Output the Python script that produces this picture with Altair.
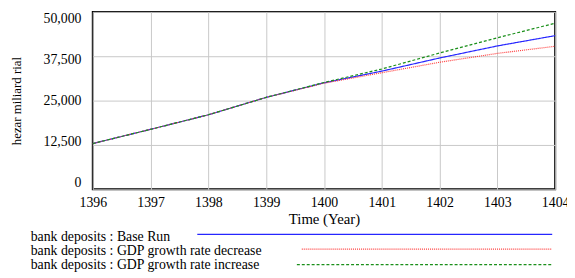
import altair as alt
import pandas as pd

years = [1396, 1397, 1398, 1399, 1400, 1401, 1402, 1403, 1404]
base_run = [12900, 16900, 21000, 25900, 30000, 33300, 37000, 40400, 43300]
gdp_decrease = [12900, 16900, 21000, 25900, 29900, 32850, 35800, 38300, 40300]
gdp_increase = [12900, 16900, 21000, 25900, 30100, 33900, 38400, 42700, 46800]
y_ticks = [0, 12500, 25000, 37500, 50000]

series_names = [
    "bank deposits : Base Run",
    "bank deposits : GDP growth rate decrease",
    "bank deposits : GDP growth rate increase",
]
series_colors = ["#2626ff", "#ff3b3b", "#1a8f1a"]
series_dash = [[1, 0], [1, 1], [3, 2]]

rows = []
for name, vals in zip(series_names, [base_run, gdp_decrease, gdp_increase]):
    for y, v in zip(years, vals):
        rows.append({"year": y, "value": v, "series": name})
df = pd.DataFrame(rows)

FONT = "Liberation Serif"

x_enc = alt.X("year:Q", scale=alt.Scale(domain=[1396, 1404], nice=False),
              axis=alt.Axis(values=years, labelExpr="format(datum.value, 'd')", title="Time (Year)",
                            grid=True, gridColor="#c8c8c8", domain=False, ticks=False,
                            labelFlush=False, labelPadding=6, titlePadding=3,
                            titleFontSize=15))
y_enc = alt.Y("value:Q", scale=alt.Scale(domain=[0, 50000], nice=False),
              axis=alt.Axis(values=y_ticks, labelExpr="format(datum.value, ',')",
                            title="hezar miliard rial", grid=True, gridColor="#c8c8c8",
                            domain=False, ticks=False, labelPadding=12, titlePadding=20,
                            labelFlush=False,
                            labelOffset={"expr": "(datum.value - 25000) / 25000 * 7"}))

layers = []
for name, col, dash in zip(series_names, series_colors, series_dash):
    layers.append(
        alt.Chart(df[df.series == name]).mark_line(color=col, strokeWidth=1.2, strokeDash=dash)
        .encode(x=x_enc, y=y_enc)
    )

# custom legend below the plot
leg_text_y = [228.5, 242.5, 257.0]
leg_line_x = [106, 212, 207]
leg_line_y = [225.7, 240.7, 256.3]
for name, col, dash, ty, lx, ly in zip(series_names, series_colors, series_dash,
                                       leg_text_y, leg_line_x, leg_line_y):
    layers.append(
        alt.Chart(pd.DataFrame({"t": [name]})).mark_text(
            align="left", baseline="middle", font=FONT, fontSize=14, color="black")
        .encode(text="t:N", x=alt.value(-63), y=alt.value(ty))
    )
    layers.append(
        alt.Chart(pd.DataFrame({"t": [name]})).mark_rule(color=col, strokeWidth=1.2, strokeDash=dash)
        .encode(x=alt.value(lx), x2=alt.value(466), y=alt.value(ly))
    )

chart = alt.layer(*layers).properties(
    width=469, height=180,
    autosize=alt.AutoSizeParams(type="none"),
    padding={"left": 86, "top": 2, "right": 12, "bottom": 86},
).configure(
    background="white",
    view=alt.ViewConfig(stroke="black", strokeWidth=2),
    axis=alt.AxisConfig(
        labelFont=FONT, titleFont=FONT, labelFontSize=14, titleFontSize=13,
        labelColor="black", titleColor="black", titleFontWeight="normal",
    ),
)

chart.save("out.html", embed_options={"renderer": "svg", "actions": False})
